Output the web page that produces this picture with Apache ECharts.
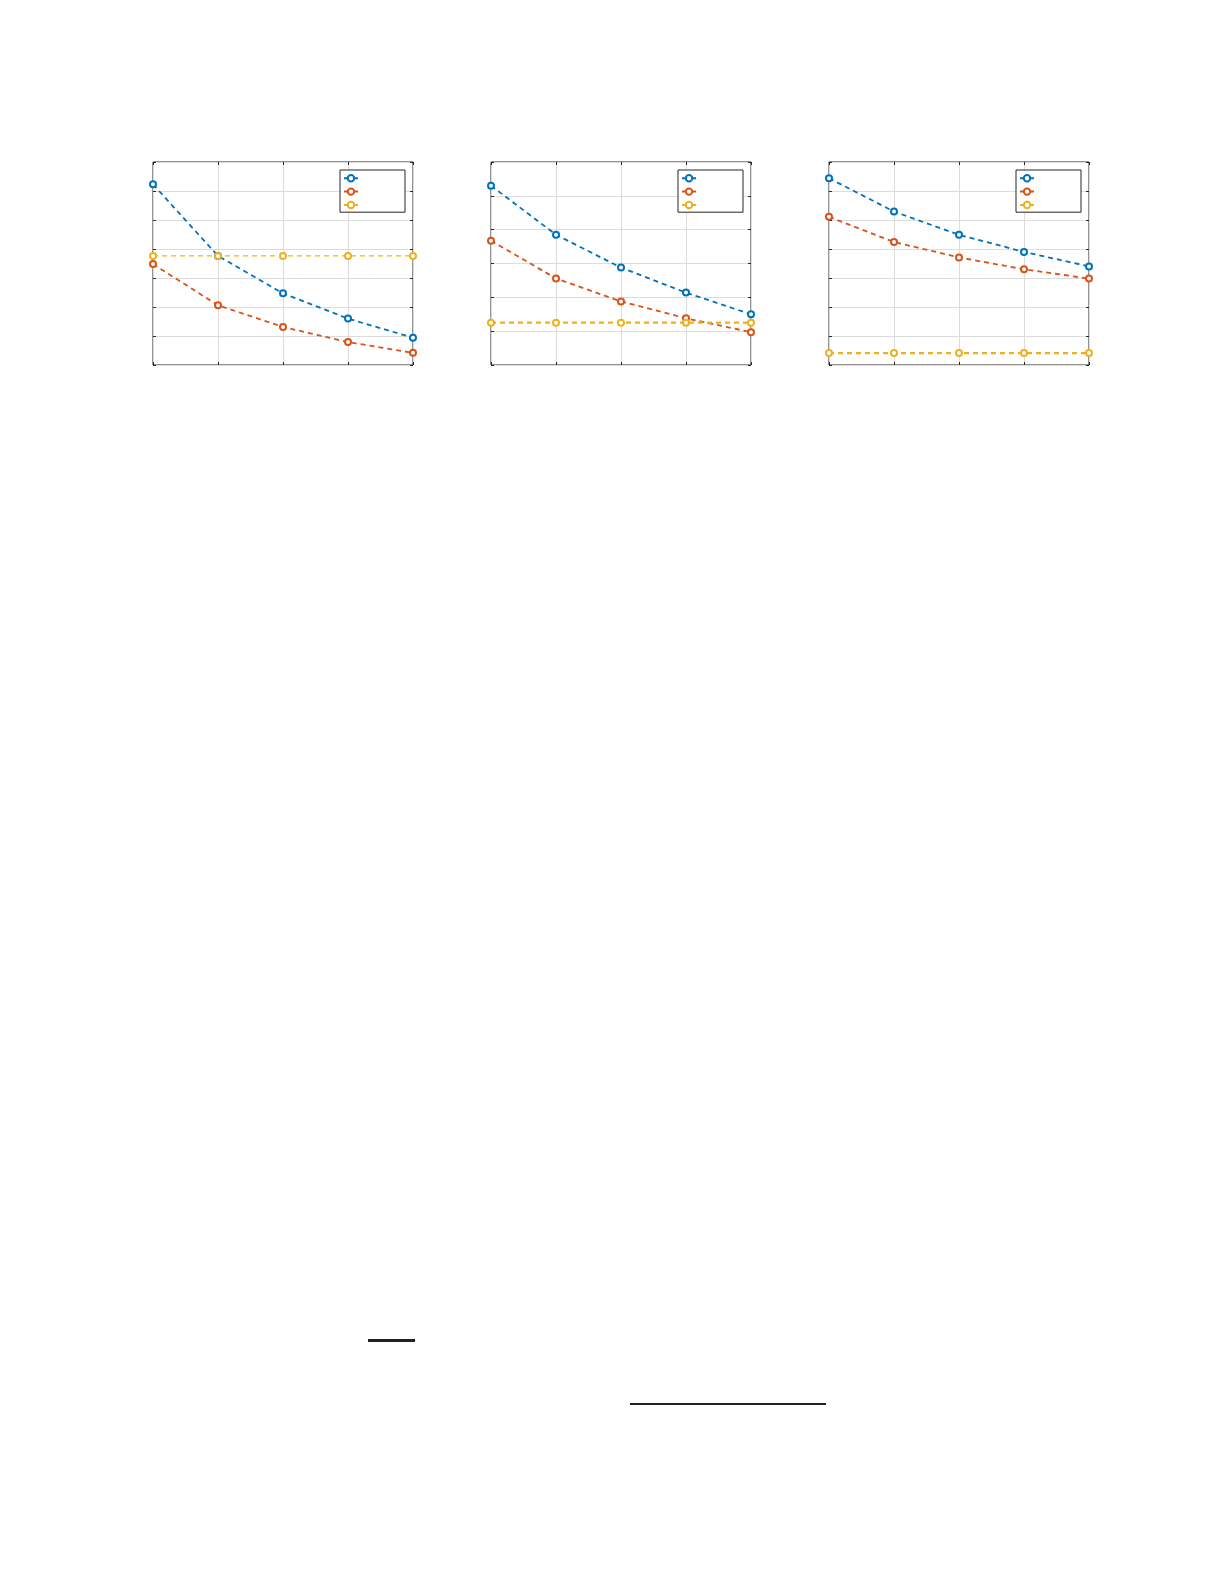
<!DOCTYPE html>
<html>
<head>
<meta charset="utf-8">
<script src="https://cdn.jsdelivr.net/npm/echarts@6/dist/echarts.min.js"></script>
<style>
html,body{margin:0;padding:0;background:#fff;}
#chart{width:1225px;height:1585px;}
</style>
</head>
<body>
<div id="chart"></div>
<script>
// x positions (5 samples per panel)
const xValues = [1, 2, 3, 4, 5];

// Panel 1 (y range 0..7)
const p1Blue   = [6.23, 3.76, 2.47, 1.60, 0.94];
const p1Orange = [3.48, 2.06, 1.31, 0.79, 0.42];
const p1Yellow = [3.76, 3.76, 3.76, 3.76, 3.76];

// Panel 2 (y range 0..6)
const p2Blue   = [5.30, 3.85, 2.88, 2.14, 1.50];
const p2Orange = [3.67, 2.56, 1.88, 1.38, 0.97];
const p2Yellow = [1.25, 1.25, 1.25, 1.25, 1.25];

// Panel 3 (y range 0..7)
const p3Blue   = [6.44, 5.29, 4.49, 3.90, 3.40];
const p3Orange = [5.11, 4.24, 3.71, 3.30, 2.98];
const p3Yellow = [0.41, 0.41, 0.41, 0.41, 0.41];

const yMax = [7, 6, 7];
const panelSeries = [
  [p1Blue, p1Orange, p1Yellow],
  [p2Blue, p2Orange, p2Yellow],
  [p3Blue, p3Orange, p3Yellow]
];
const seriesNames = [
  ['P1 S1', 'P1 S2', 'P1 S3'],
  ['P2 S1', 'P2 S2', 'P2 S3'],
  ['P3 S1', 'P3 S2', 'P3 S3']
];

const colors = ['#0072BD', '#D95319', '#EDB120'];
const gridLefts = [153, 491, 829];
const gridTop = 162, gridW = 260, gridH = 203;

const chart = echarts.init(document.getElementById('chart'), null, {renderer: 'canvas'});

const grids = [], xAxes = [], yAxes = [], series = [], legends = [];
const axisLineStyle = {color: '#262626', width: 1};

gridLefts.forEach((left, i) => {
  grids.push({left: left, top: gridTop, width: gridW, height: gridH,
    show: true, borderColor: '#262626', borderWidth: 1, backgroundColor: '#fff'});
  ['bottom', 'top'].forEach((pos, k) => {
    xAxes.push({
      type: 'value', gridIndex: i, position: pos, min: 1, max: 5, interval: 1,
      axisLine: {show: false, onZero: false},
      axisTick: {show: true, inside: true, length: 3, lineStyle: axisLineStyle},
      axisLabel: {show: false},
      splitLine: {show: k === 0, lineStyle: {color: '#dcdcdc', width: 1}}
    });
  });
  ['left', 'right'].forEach((pos, k) => {
    yAxes.push({
      type: 'value', gridIndex: i, position: pos, min: 0, max: yMax[i], interval: 1,
      axisLine: {show: false, onZero: false},
      axisTick: {show: true, inside: true, length: 3, lineStyle: axisLineStyle},
      axisLabel: {show: false},
      splitLine: {show: k === 0, lineStyle: {color: '#dcdcdc', width: 1}}
    });
  });
  panelSeries[i].forEach((vals, j) => {
    const lw = (j === 2) ? (i === 0 ? 1.3 : 2.2) : 1.8;
    series.push({
      name: seriesNames[i][j],
      type: 'line',
      xAxisIndex: i * 2,
      yAxisIndex: i * 2,
      data: xValues.map((x, n) => [x, vals[n]]),
      symbol: 'emptyCircle',
      symbolSize: 6,
      showSymbol: true,
      color: colors[j],
      lineStyle: {color: colors[j], width: lw, type: [5, 4]},
      itemStyle: {color: colors[j], borderColor: colors[j], borderWidth: 1.6},
      animation: false,
      z: 3 + j
    });
  });
  legends.push({
    data: seriesNames[i].map(n => ({name: n})),
    orient: 'vertical',
    left: left + gridW - 73,
    top: 170,
    itemWidth: 14,
    itemHeight: 8,
    itemGap: 5,
    padding: [4, 46, 3, 3],
    borderColor: '#262626',
    borderWidth: 1,
    backgroundColor: '#fff',
    formatter: () => '',
    textStyle: {fontSize: 1},
    selectedMode: false
  });
});

chart.setOption({
  backgroundColor: '#ffffff',
  animation: false,
  grid: grids,
  xAxis: xAxes,
  yAxis: yAxes,
  legend: legends,
  series: series,
  graphic: [
    {type: 'rect', shape: {x: 368, y: 1339, width: 47, height: 3}, style: {fill: '#222'}},
    {type: 'rect', shape: {x: 630, y: 1403, width: 196, height: 2}, style: {fill: '#222'}}
  ]
});
</script>
</body>
</html>
